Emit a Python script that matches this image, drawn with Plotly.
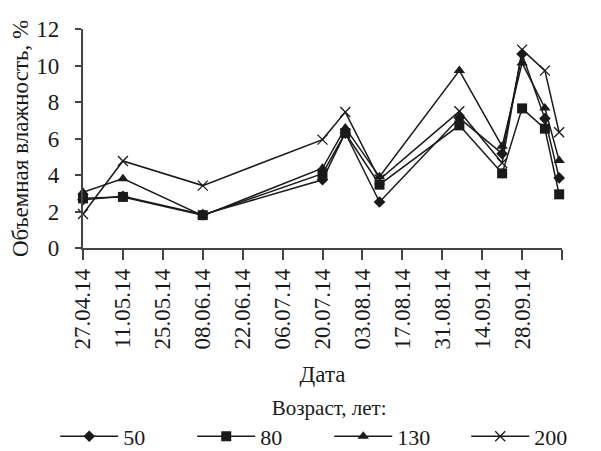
import plotly.graph_objects as go

dates = ["2014-04-27", "2014-05-11", "2014-06-08", "2014-07-20", "2014-07-28",
         "2014-08-09", "2014-09-06", "2014-09-21", "2014-09-28", "2014-10-06", "2014-10-11"]
age50 = [2.65, 2.83, 1.83, 3.74, 6.3, 2.52, 7.12, 5.17, 10.63, 7.09, 3.84]
age80 = [2.72, 2.8, 1.8, 4.07, 6.3, 3.47, 6.72, 4.09, 7.65, 6.54, 2.94]
age130 = [3.05, 3.8, 1.77, 4.37, 6.58, 3.9, 9.72, 5.57, 10.14, 7.67, 4.79]
age200 = [1.86, 4.77, 3.42, 5.94, 7.45, 3.75, 7.49, 4.66, 10.87, 9.72, 6.34]

tick_dates = ["2014-04-27", "2014-05-11", "2014-05-25", "2014-06-08", "2014-06-22",
              "2014-07-06", "2014-07-20", "2014-08-03", "2014-08-17", "2014-08-31",
              "2014-09-14", "2014-09-28", "2014-10-12"]
tick_text = ["27.04.14", "11.05.14", "25.05.14", "08.06.14", "22.06.14", "06.07.14",
             "20.07.14", "03.08.14", "17.08.14", "31.08.14", "14.09.14", "28.09.14", ""]

series = [
    ("50", age50, dict(symbol="diamond", size=9, color="#1a1a1a")),
    ("80", age80, dict(symbol="square", size=10, color="#1a1a1a")),
    ("130", age130, dict(symbol="triangle-up", size=10, color="#1a1a1a")),
    ("200", age200, dict(symbol="x-thin", size=10, color="#1a1a1a",
                         line=dict(width=1.3, color="#1a1a1a"))),
]

fig = go.Figure()
for name, vals, mk in series:
    fig.add_trace(go.Scatter(
        x=dates, y=vals, name=name, mode="lines+markers",
        line=dict(color="#1a1a1a", width=1.5), marker=mk, cliponaxis=False))

FAM = "Liberation Serif"
big = dict(family=FAM, size=23, color="#1a1a1a")
leg = dict(family=FAM, size=22, color="#1a1a1a")
legt = dict(family=FAM, size=21, color="#1a1a1a")
fig.update_layout(
    width=593, height=443,
    margin=dict(l=75, r=39, t=21, b=203, autoexpand=False),
    paper_bgcolor="white", plot_bgcolor="white",
    font=big,
    showlegend=True,
    legend=dict(orientation="h", x=-0.058, xanchor="left", y=-0.955, yanchor="bottom",
                title=dict(text="Возраст, лет:", side="top center", font=legt),
                itemwidth=58, entrywidth=64, font=leg),
)
fig.update_xaxes(
    type="date", range=["2014-04-27", "2014-10-12"],
    tickmode="array", tickvals=tick_dates, ticktext=tick_text, tickangle=-90,
    ticksuffix="\u2009",
    ticks="outside", ticklen=10, tickcolor="#444", tickwidth=1.5,
    showline=True, linecolor="#444", linewidth=1.5, showgrid=False, zeroline=False,
    tickfont=big,
    title=dict(text="Дата", standoff=17, font=big),
)
fig.update_yaxes(
    range=[0, 12], dtick=2, ticks="outside", ticklen=6, tickcolor="#444", tickwidth=1.5,
    ticksuffix="\u2002",
    showline=True, linecolor="#444", linewidth=1.5, showgrid=False, zeroline=False,
    tickfont=big,
    title=dict(text="Объемная влажность, %", standoff=2, font=big),
)
fig.write_html("out.html")
